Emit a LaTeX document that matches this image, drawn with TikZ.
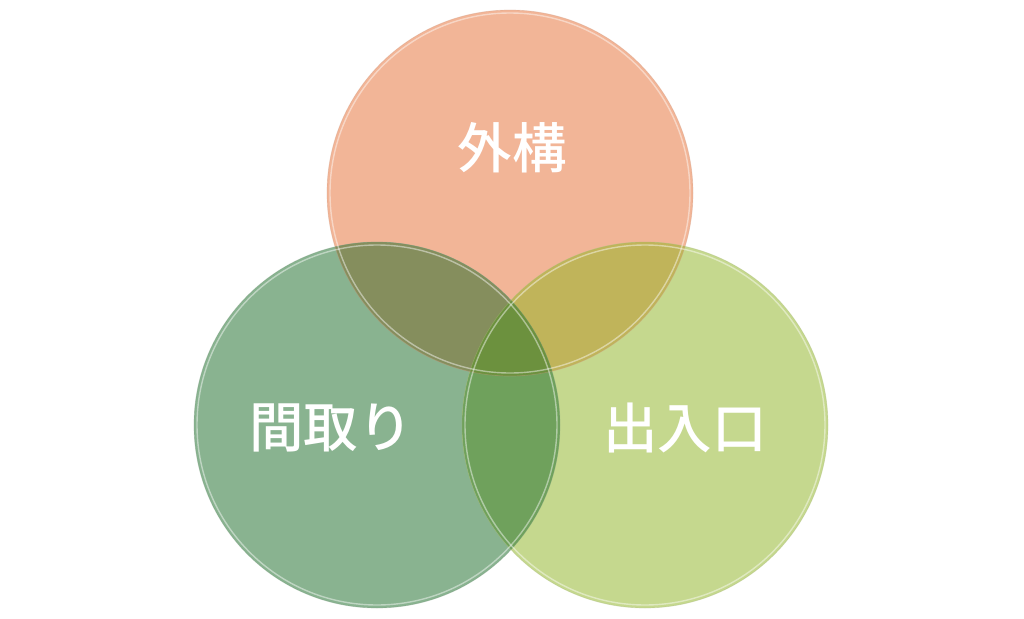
\documentclass[tikz,border=0pt]{standalone}
\usepackage{fontspec}
\newfontfamily\cjk{Noto Sans CJK JP}[UprightFont={* Medium}]
\usepackage{tikz}
\usetikzlibrary{positioning}
\definecolor{gaikofill}{RGB}{242,181,151}
\definecolor{madorifill}{RGB}{137,179,144}
\definecolor{deiriguchifill}{RGB}{197,216,142}
\definecolor{gmfill}{RGB}{133,142,93}
\definecolor{gdfill}{RGB}{192,180,90}
\definecolor{mdfill}{RGB}{111,161,92}
\definecolor{allfill}{RGB}{108,145,62}
\newcommand{\VennR}{3.66}

\begin{document}
\begin{tikzpicture}[venn/.style={circle, minimum size=7.32cm, inner sep=0pt},
    vennlabel/.style={text=white, font=\cjk\fontsize{31}{31}\selectfont}]

      \useasboundingbox (0,0) rectangle (20.48,-12.38);

      \node[venn, fill=gaikofill] (gaiko) at (10.2,-3.86) {};
      \node[venn, fill=madorifill] (madori) at (7.54,-8.5) {};
      \node[venn, fill=deiriguchifill] (deiriguchi) at (12.9,-8.5) {};

      % overlaps
      \begin{scope}
        \clip (gaiko.center) circle (\VennR);
        \fill[gmfill] (madori.center) circle (\VennR);
        \fill[gdfill] (deiriguchi.center) circle (\VennR);
      \end{scope}
      \begin{scope}
        \clip (madori.center) circle (\VennR);
        \fill[mdfill] (deiriguchi.center) circle (\VennR);
      \end{scope}
      \begin{scope}
        \clip (gaiko.center) circle (\VennR);
        \clip (madori.center) circle (\VennR);
        \fill[allfill] (deiriguchi.center) circle (\VennR);
      \end{scope}

      % glassy rims
      \draw[gaikofill!85!black, opacity=.35, line width=.4pt] (gaiko.center) circle (\VennR);
      \draw[madorifill!85!black, opacity=.35, line width=.4pt] (madori.center) circle (\VennR);
      \draw[deiriguchifill!85!black, opacity=.35, line width=.4pt] (deiriguchi.center) circle (\VennR);
      \foreach \c in {gaiko,madori,deiriguchi}
        \draw[white, opacity=.45, line width=.8pt] (\c.center) circle (\VennR-0.06);

      \node[vennlabel] (gaikotext) at (10.24,-2.96) {外構};
      \node[vennlabel] (madoritext) at (6.62,-8.56) {間取り};
      \node[vennlabel] (deiriguchitext) at (13.7,-8.56) {出入口};
    \end{tikzpicture}
\end{document}
